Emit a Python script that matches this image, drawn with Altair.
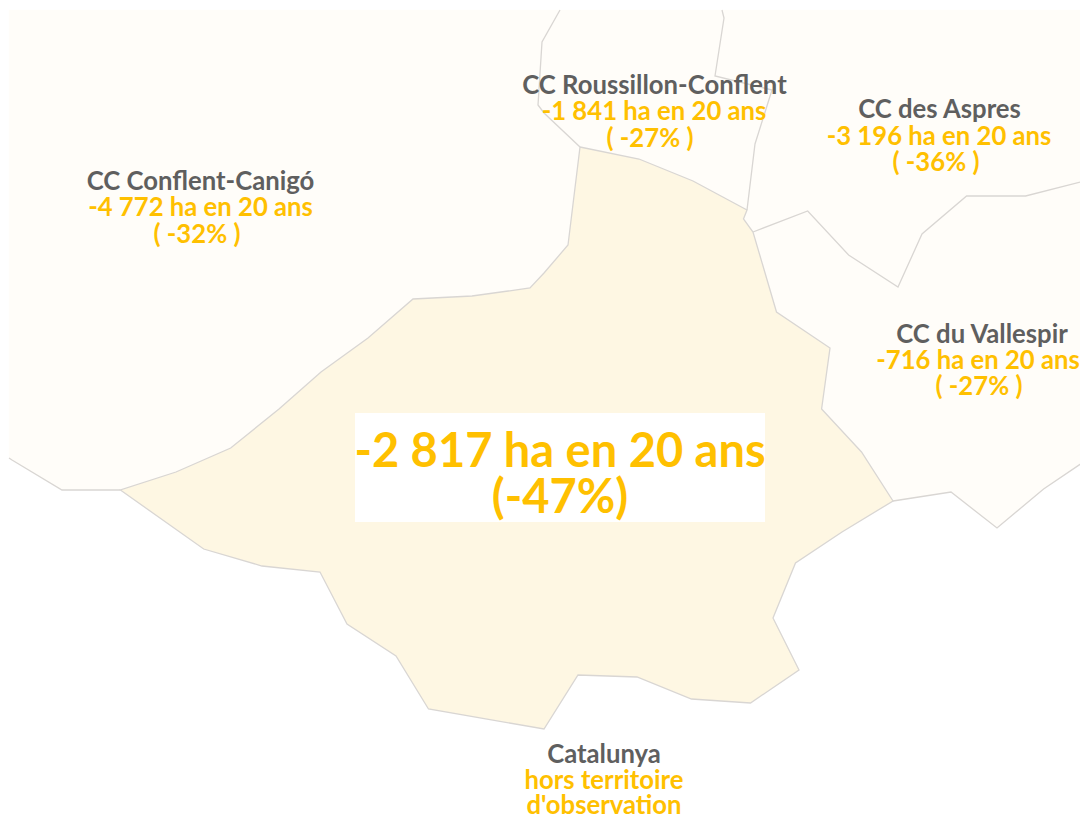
import altair as alt

FONT = "Lato"
CREAM = "#FEF7E3"
PALE = "#FFFDF9"
EDGE = "#D9D6D3"
GREY = "#5F5F5F"
GOLD = "#FFC000"

# Territory outlines (x, y)
shared_north = [(580,147),(639,159),(693,181),(747,210)]
notch = [(743.5,219),(753,232)]
east_side = [(776.5,312),(830,348),(821.6,409),(861.5,452),(893,501)]
south_side = [(842,532),(795.5,563),(773,618),(799,670),(750.5,703),(691.5,699),(637,677),(578,675),
              (544,729),(428.5,709),(396,656),(347,624),(320,572),(262,566),(203.7,549),(120.4,490)]
west_side = [(176,472),(230.7,448),(279,409),(321,372),(368,338),(413,299),(472,296),(530,288),(544,273),(568,245)]

conflent_outer = [(120.4,490),(62,490),(12,460),(9,458),(9,10),(560,10),(542,42),(538,105),(544,113)]
roussillon_west = [(560,10),(542,42),(538,105),(544,113),(580,147)]
roussillon_east = [(722,10),(724,18),(715,76),(772,90),(755,144),(747,210)]
aspres_south = [(753,232),(807.7,211),(848.6,255),(898,287),(922,234),(966.6,196),(1025.6,196),(1084.6,181),(1088,184)]
vallespir_south = [(1088,459),(1043.6,489),(997,528),(951,492),(893,501)]

main_ring = shared_north + notch + east_side + south_side + west_side
conflent_ring = conflent_outer + [(580,147),(568,245),(544,273),(530,288),(472,296),(413,299),(368,338),(321,372),(279,409),(230.7,448),(176,472)]
roussillon_ring = [(560,10),(722,10),(724,18),(715,76),(772,90),(755,144),(747,210),(693,181),(639,159),(580,147),(544,113),(538,105),(542,42)]
aspres_ring = roussillon_east + [(743.5,219)] + aspres_south + [(1088,10)]
vallespir_ring = aspres_south + vallespir_south + east_side[::-1][1:]

# Labels: x, y, text
title_x = [200.5, 654.5, 939.5, 982, 604]
title_y = [181.5, 85.5, 109.5, 334.5, 755]
title_text = ["CC Conflent-Canigó", "CC Roussillon-Conflent", "CC des Aspres", "CC du Vallespir", "Catalunya"]
gold_x = [200.5, 654, 939, 978, 604, 197, 650, 936, 979, 604]
gold_y = [208, 112, 136.5, 361, 781, 235, 139, 162.5, 387, 806]
gold_text = ["-4 772 ha en 20 ans", "-1 841 ha en 20 ans", "-3 196 ha en 20 ans", "-716 ha en 20 ans", "hors territoire",
             "( -32% )", "( -27% )", "( -36% )", "( -27% )", "d'observation"]
big_x = [560, 560]
big_y = [452.5, 499]
big_text = ["-2 817 ha en 20 ans", "(-47%)"]
box_x, box_x2, box_y, box_y2 = [355], [765], [413], [522]


def poly(ring, name):
    return {"type": "Feature", "properties": {"name": name},
            "geometry": {"type": "Polygon", "coordinates": [[list(p) for p in ring] + [list(ring[0])]]}}


def path(points, name):
    return {"type": "Feature", "properties": {"name": name},
            "geometry": {"type": "LineString", "coordinates": [list(p) for p in points]}}


proj = dict(type="identity", scale=1, translate=[-8, -8])
X = alt.X("x:Q", scale=alt.Scale(domain=[8, 1080], nice=False, zero=False), axis=None)
Y = alt.Y("y:Q", scale=alt.Scale(domain=[8, 818], nice=False, zero=False, reverse=True), axis=None)

pale_fill = alt.Chart(alt.Data(values=[
    poly(conflent_ring, "Conflent"), poly(roussillon_ring, "Roussillon"),
    poly(aspres_ring, "Aspres"), poly(vallespir_ring, "Vallespir"),
])).mark_geoshape(fill=PALE, stroke=PALE, strokeWidth=0.5).project(**proj)

main_fill = alt.Chart(alt.Data(values=[poly(main_ring, "Main")])).mark_geoshape(
    fill=CREAM).project(**proj)

borders = alt.Chart(alt.Data(values=[
    path(main_ring + main_ring[:1], "main"),
    path(conflent_outer[:4], "west"),
    path(roussillon_west, "rw"),
    path(roussillon_east, "re"),
    path(aspres_south, "as"),
    path(vallespir_south, "vs"),
])).mark_geoshape(filled=False, stroke=EDGE, strokeWidth=1.3).project(**proj)

box = alt.Chart(alt.Data(values=[{"x": box_x[0], "x2": box_x2[0], "y": box_y[0], "y2": box_y2[0]}])).mark_rect(
    color="white").encode(x=X, x2="x2:Q", y=Y, y2="y2:Q")


def text_layer(xs, ys, texts, color, size):
    rows = [{"x": a, "y": b, "t": c} for a, b, c in zip(xs, ys, texts)]
    return alt.Chart(alt.Data(values=rows)).mark_text(
        font=FONT, fontWeight="bold", fontSize=size, color=color, align="center", baseline="middle"
    ).encode(x=X, y=Y, text="t:N")


chart = alt.layer(
    pale_fill, main_fill, borders, box,
    text_layer(title_x, title_y, title_text, GREY, 25.7),
    text_layer(gold_x, gold_y, gold_text, GOLD, 25.7),
    text_layer(big_x, big_y, big_text, GOLD, 47),
).resolve_scale(x="shared", y="shared").properties(
    width=1072, height=810, padding=0, background="white",
    autosize=alt.AutoSizeParams(type="none")
).configure_view(stroke=None)

chart.save("out.html", embed_options={"renderer": "svg", "actions": False})
